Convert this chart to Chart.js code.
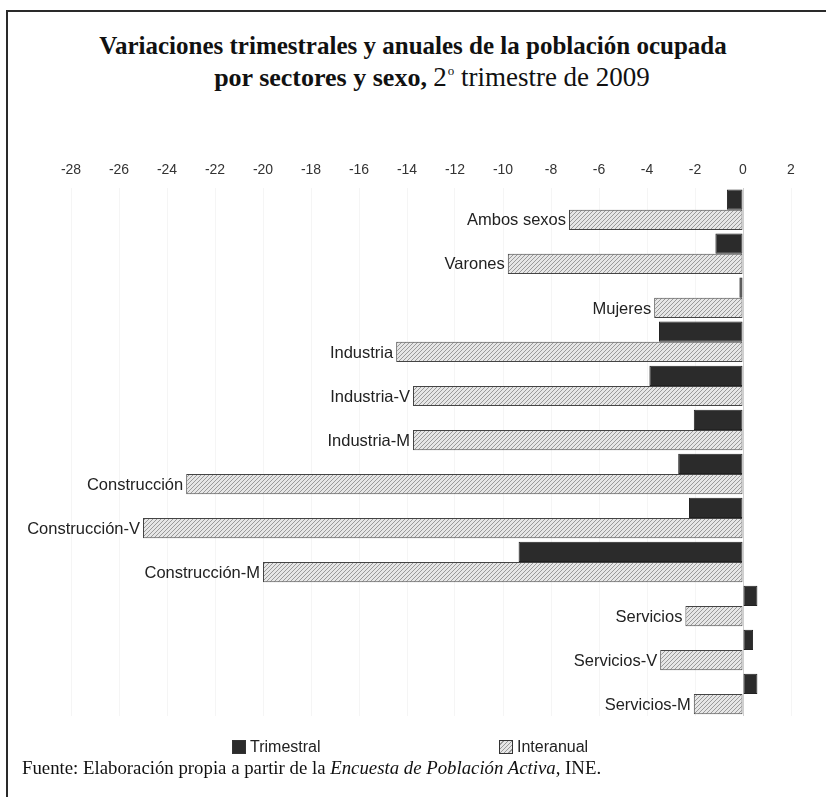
<!DOCTYPE html>
<html>
<head>
<meta charset="utf-8">
<script src="https://cdn.jsdelivr.net/npm/chart.js@4.4.1/dist/chart.umd.min.js"></script>
<style>
  html, body { margin: 0; padding: 0; background: #fff; overflow: hidden; }
  #marco { position: absolute; left: 6px; top: 10px; width: 900px; height: 900px; border: 2px solid #2a2a2a; }
  .linea { position: absolute; left: 0; width: 826px; text-align: center; font-family: 'Liberation Serif', 'Times New Roman', serif; font-size: 25px; line-height: 30px; color: #111; white-space: nowrap; }
  .sup { display: inline-block; font-size: 13px; position: relative; top: -11px; margin-left: 1px; }
  #grafico { position: absolute; left: 0; top: 0; }
  #leyenda { position: absolute; top: 738px; left: 0; width: 826px; font-family: 'Liberation Sans', Arial, sans-serif; font-size: 16px; color: #222; }
  .item { position: absolute; display: flex; align-items: center; }
  .caja { width: 12px; height: 12px; border: 1px solid #333; margin-right: 4px; }
  #fuente { position: absolute; left: 22px; top: 757px; font-family: 'Liberation Serif', 'Times New Roman', serif; font-size: 18.8px; color: #111; white-space: nowrap; }
</style>
</head>
<body>
<div id="marco"></div>
<div class="linea" style="top:31px"><b>Variaciones trimestrales y anuales de la población ocupada</b></div>
<div class="linea" style="top:62px; padding-left:38px; box-sizing:border-box"><b style="font-size:26px">por sectores y sexo,</b> <span style="font-size:27px">2<span class="sup">o</span> trimestre de 2009</span></div>
<canvas id="grafico" width="826" height="797"></canvas>
<div id="leyenda">
  <div class="item" style="left:232px"><span class="caja" style="background:#2b2b2b"></span>Trimestral</div>
  <div class="item" style="left:499px"><span class="caja" style="background:repeating-linear-gradient(135deg,#e6e6e6 0 2px,#999 2px 3px)"></span>Interanual</div>
</div>
<div id="fuente">Fuente: Elaboración propia a partir de la <i>Encuesta de Población Activa</i>, INE.</div>

<script>
// ── Datos ────────────────────────────────────────────
const categorias = ['Ambos sexos', 'Varones', 'Mujeres', 'Industria', 'Industria-V', 'Industria-M',
  'Construcción', 'Construcción-V', 'Construcción-M', 'Servicios', 'Servicios-V', 'Servicios-M'];
const trimestral = [-0.67, -1.15, -0.15, -3.5, -3.9, -2.05, -2.7, -2.25, -9.35, 0.6, 0.42, 0.6];
const interanual = [-7.25, -9.8, -3.7, -14.45, -13.75, -13.75, -23.2, -25.0, -20.0, -2.4, -3.45, -2.05];
const marcasX    = [-28, -26, -24, -22, -20, -18, -16, -14, -12, -10, -8, -6, -4, -2, 0, 2];

function patronRayado() {
  const c = document.createElement('canvas');
  c.width = 4; c.height = 4;
  const g = c.getContext('2d');
  g.fillStyle = '#e6e6e6';
  g.fillRect(0, 0, 4, 4);
  g.strokeStyle = '#9a9a9a';
  g.lineWidth = 1;
  g.beginPath();
  g.moveTo(0, 4); g.lineTo(4, 0);
  g.moveTo(-1, 1); g.lineTo(1, -1);
  g.moveTo(3, 5); g.lineTo(5, 3);
  g.stroke();
  return g.createPattern(c, 'repeat');
}

// etiquetas a la izquierda de la barra interanual
const etiquetasBarras = {
  id: 'etiquetasBarras',
  afterDatasetsDraw(chart) {
    const ctx = chart.ctx;
    const meta0 = chart.getDatasetMeta(0);
    const meta1 = chart.getDatasetMeta(1);
    ctx.save();
    ctx.font = '16.5px "Liberation Sans", Arial, sans-serif';
    ctx.fillStyle = '#222';
    ctx.textAlign = 'right';
    ctx.textBaseline = 'middle';
    categorias.forEach((nombre, i) => {
      const b0 = meta0.data[i], b1 = meta1.data[i];
      const izq = Math.min(b0.x, b0.base, b1.x, b1.base);
      ctx.fillText(nombre, izq - 3, b1.y + 1);
    });
    ctx.restore();
  }
};

Chart.defaults.font.family = '"Liberation Sans", Arial, sans-serif';
Chart.defaults.color = '#333';

new Chart(document.getElementById('grafico').getContext('2d'), {
  type: 'bar',
  data: {
    labels: categorias,
    datasets: [
      { label: 'Trimestral', data: trimestral, backgroundColor: '#2b2b2b', borderColor: '#222', borderWidth: 1, borderSkipped: false },
      { label: 'Interanual', data: interanual, backgroundColor: patronRayado(), borderColor: '#444', borderWidth: 1, borderSkipped: false },
    ],
  },
  options: {
    indexAxis: 'y',
    responsive: false,
    animation: false,
    categoryPercentage: 0.92,
    barPercentage: 1,
    layout: { padding: { left: 23, right: 11, top: 153, bottom: 81 } },
    plugins: { legend: { display: false }, tooltip: { enabled: false } },
    scales: {
      x: {
        position: 'top',
        min: -30, max: 3,
        afterBuildTicks: s => { s.ticks = marcasX.map(v => ({ value: v })); },
        ticks: { font: { size: 14 }, color: '#333', padding: 9 },
        grid: { drawTicks: false, color: c => c.tick && c.tick.value === 0 ? '#cfcfcf' : '#f5f5f5' },
        border: { display: false },
      },
      y: { display: false },
    },
  },
  plugins: [etiquetasBarras],
});
</script>
</body>
</html>
